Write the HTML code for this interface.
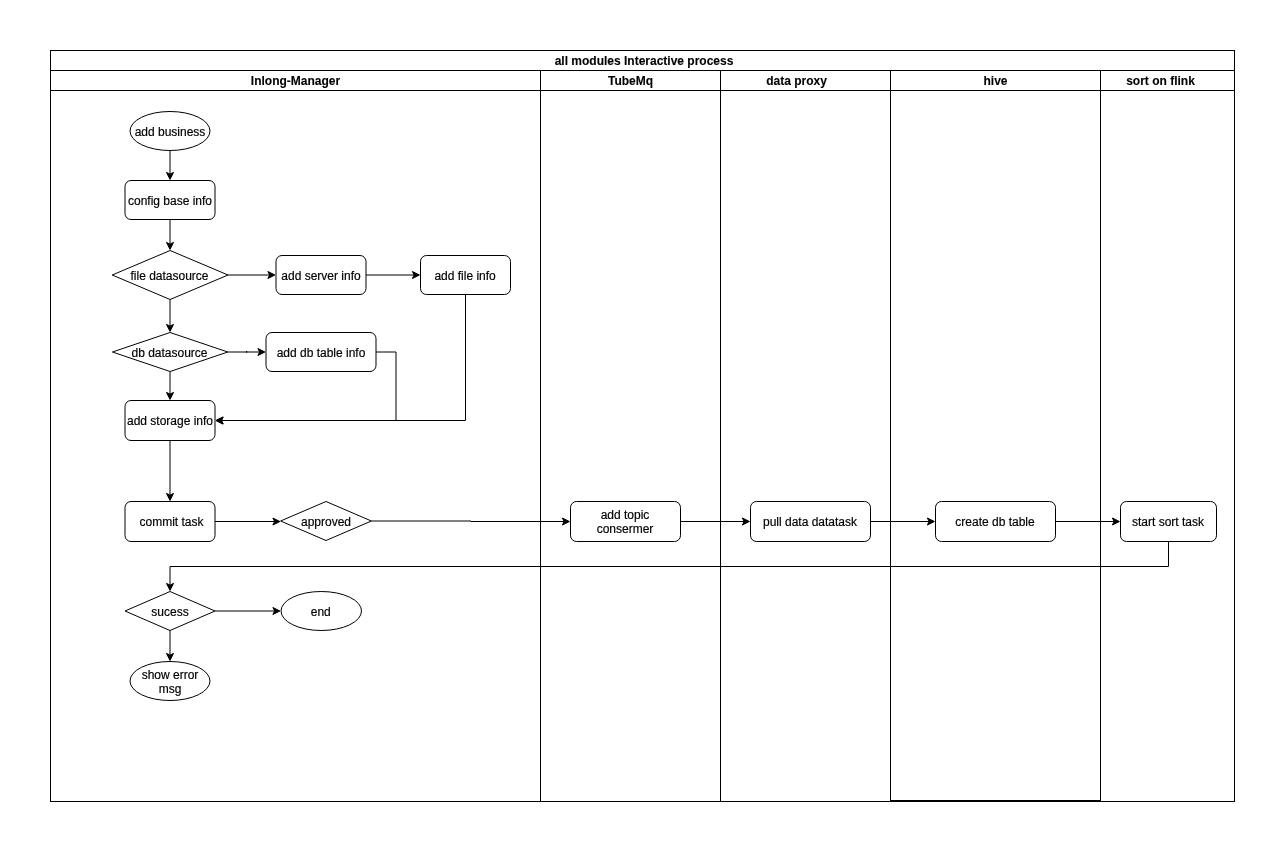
<!DOCTYPE html>
<html><head><meta charset="utf-8"><title>all modules Interactive process</title>
<style>
html,body{margin:0;padding:0;background:#fff;}
body{width:1285px;height:852px;overflow:hidden;}
svg{display:block;will-change:transform;}
text{font-family:"Liberation Sans",sans-serif;fill:#000;}
</style></head><body>
<svg width="1285" height="852" viewBox="0 0 1285 852">
<rect x="0" y="0" width="1285" height="852" fill="#fff"/>
<rect x="50.5" y="50.5" width="1184.0" height="751.0" fill="#fff" stroke="#000"/>
<path d="M 50.5 70.5 L 1234.5 70.5" fill="none" stroke="#000" stroke-width="1" stroke-miterlimit="10" />
<path d="M 50.5 90.5 L 1234.5 90.5" fill="none" stroke="#000" stroke-width="1" stroke-miterlimit="10" />
<path d="M 540.5 70.5 L 540.5 801.5" fill="none" stroke="#000" stroke-width="1" stroke-miterlimit="10" />
<path d="M 720.5 70.5 L 720.5 801.5" fill="none" stroke="#000" stroke-width="1" stroke-miterlimit="10" />
<path d="M 890.5 70.5 L 890.5 801.5" fill="none" stroke="#000" stroke-width="1" stroke-miterlimit="10" />
<path d="M 1100.5 70.5 L 1100.5 801.5" fill="none" stroke="#000" stroke-width="1" stroke-miterlimit="10" />
<path d="M 890.5 800.5 L 1100.5 800.5" fill="none" stroke="#000" stroke-width="1" stroke-miterlimit="10" />
<text x="644" y="65.0" text-anchor="middle" font-weight="bold" font-size="12px" stroke="#000" stroke-width="0.1">all modules Interactive process</text>
<text x="295.5" y="85.0" text-anchor="middle" font-weight="bold" font-size="12px" stroke="#000" stroke-width="0.1">Inlong-Manager</text>
<text x="630.5" y="85.0" text-anchor="middle" font-weight="bold" font-size="12px" stroke="#000" stroke-width="0.1">TubeMq</text>
<text x="796.5" y="85.0" text-anchor="middle" font-weight="bold" font-size="12px" stroke="#000" stroke-width="0.1">data proxy</text>
<text x="995.5" y="85.0" text-anchor="middle" font-weight="bold" font-size="12px" stroke="#000" stroke-width="0.1">hive</text>
<text x="1160.5" y="85.0" text-anchor="middle" font-weight="bold" font-size="12px" stroke="#000" stroke-width="0.1">sort on flink</text>
<path d="M 170 150.5 L 170.0 174.13" fill="none" stroke="#000" stroke-width="1" stroke-miterlimit="10" />
<path d="M 170.0 179.38 L 166.5 172.38 L 170.0 174.13 L 173.5 172.38 Z" fill="#000" stroke="#000" stroke-width="1" stroke-miterlimit="10"/>
<path d="M 170 219.5 L 170.0 244.13" fill="none" stroke="#000" stroke-width="1" stroke-miterlimit="10" />
<path d="M 170.0 249.38 L 166.5 242.38 L 170.0 244.13 L 173.5 242.38 Z" fill="#000" stroke="#000" stroke-width="1" stroke-miterlimit="10"/>
<path d="M 227.5 275 L 269.63 275.0" fill="none" stroke="#000" stroke-width="1" stroke-miterlimit="10" />
<path d="M 274.88 275.0 L 267.88 278.5 L 269.63 275.0 L 267.88 271.5 Z" fill="#000" stroke="#000" stroke-width="1" stroke-miterlimit="10"/>
<path d="M 366 275 L 414.13 275.0" fill="none" stroke="#000" stroke-width="1" stroke-miterlimit="10" />
<path d="M 419.38 275.0 L 412.38 278.5 L 414.13 275.0 L 412.38 271.5 Z" fill="#000" stroke="#000" stroke-width="1" stroke-miterlimit="10"/>
<path d="M 170 299.5 L 170.0 326.13" fill="none" stroke="#000" stroke-width="1" stroke-miterlimit="10" />
<path d="M 170.0 331.38 L 166.5 324.38 L 170.0 326.13 L 173.5 324.38 Z" fill="#000" stroke="#000" stroke-width="1" stroke-miterlimit="10"/>
<path d="M 227.5 352 L 259.63 352.0" fill="none" stroke="#000" stroke-width="1" stroke-miterlimit="10" />
<path d="M 264.88 352.0 L 257.88 355.5 L 259.63 352.0 L 257.88 348.5 Z" fill="#000" stroke="#000" stroke-width="1" stroke-miterlimit="10"/>
<rect x="246" y="351" width="1.2" height="1.6" fill="#000"/>
<path d="M 170 371.5 L 170.0 394.13" fill="none" stroke="#000" stroke-width="1" stroke-miterlimit="10" />
<path d="M 170.0 399.38 L 166.5 392.38 L 170.0 394.13 L 173.5 392.38 Z" fill="#000" stroke="#000" stroke-width="1" stroke-miterlimit="10"/>
<path d="M 376 352 L 396 352 L 396 420.5 L 221.37 420.5" fill="none" stroke="#000" stroke-width="1" stroke-miterlimit="10" />
<path d="M 216.12 420.5 L 223.12 417.0 L 221.37 420.5 L 223.12 424.0 Z" fill="#000" stroke="#000" stroke-width="1" stroke-miterlimit="10"/>
<path d="M 465.5 294.5 L 465.5 420.5 L 221.37 420.5" fill="none" stroke="#000" stroke-width="1" stroke-miterlimit="10" />
<path d="M 216.12 420.5 L 223.12 417.0 L 221.37 420.5 L 223.12 424.0 Z" fill="#000" stroke="#000" stroke-width="1" stroke-miterlimit="10"/>
<path d="M 170 440.5 L 170.0 495.13" fill="none" stroke="#000" stroke-width="1" stroke-miterlimit="10" />
<path d="M 170.0 500.38 L 166.5 493.38 L 170.0 495.13 L 173.5 493.38 Z" fill="#000" stroke="#000" stroke-width="1" stroke-miterlimit="10"/>
<path d="M 215 521.5 L 274.63 521.5" fill="none" stroke="#000" stroke-width="1" stroke-miterlimit="10" />
<path d="M 279.88 521.5 L 272.88 525.0 L 274.63 521.5 L 272.88 518.0 Z" fill="#000" stroke="#000" stroke-width="1" stroke-miterlimit="10"/>
<path d="M 371.4 521 L 471 521 L 471 521.5 L 564.13 521.5" fill="none" stroke="#000" stroke-width="1" stroke-miterlimit="10" />
<path d="M 569.38 521.5 L 562.38 525.0 L 564.13 521.5 L 562.38 518.0 Z" fill="#000" stroke="#000" stroke-width="1" stroke-miterlimit="10"/>
<path d="M 680.5 521.5 L 744.13 521.5" fill="none" stroke="#000" stroke-width="1" stroke-miterlimit="10" />
<path d="M 749.38 521.5 L 742.38 525.0 L 744.13 521.5 L 742.38 518.0 Z" fill="#000" stroke="#000" stroke-width="1" stroke-miterlimit="10"/>
<path d="M 870.5 521.5 L 929.13 521.5" fill="none" stroke="#000" stroke-width="1" stroke-miterlimit="10" />
<path d="M 934.38 521.5 L 927.38 525.0 L 929.13 521.5 L 927.38 518.0 Z" fill="#000" stroke="#000" stroke-width="1" stroke-miterlimit="10"/>
<path d="M 1055.5 521.5 L 1114.13 521.5" fill="none" stroke="#000" stroke-width="1" stroke-miterlimit="10" />
<path d="M 1119.38 521.5 L 1112.38 525.0 L 1114.13 521.5 L 1112.38 518.0 Z" fill="#000" stroke="#000" stroke-width="1" stroke-miterlimit="10"/>
<path d="M 1168.5 541.5 L 1168.5 566.5 L 170 566.5 L 170.0 585.13" fill="none" stroke="#000" stroke-width="1" stroke-miterlimit="10" />
<path d="M 170.0 590.38 L 166.5 583.38 L 170.0 585.13 L 173.5 583.38 Z" fill="#000" stroke="#000" stroke-width="1" stroke-miterlimit="10"/>
<path d="M 215 611 L 274.63 611.0" fill="none" stroke="#000" stroke-width="1" stroke-miterlimit="10" />
<path d="M 279.88 611.0 L 272.88 614.5 L 274.63 611.0 L 272.88 607.5 Z" fill="#000" stroke="#000" stroke-width="1" stroke-miterlimit="10"/>
<path d="M 170 630.5 L 170.0 655.13" fill="none" stroke="#000" stroke-width="1" stroke-miterlimit="10" />
<path d="M 170.0 660.38 L 166.5 653.38 L 170.0 655.13 L 173.5 653.38 Z" fill="#000" stroke="#000" stroke-width="1" stroke-miterlimit="10"/>
<ellipse cx="170.0" cy="131.0" rx="40.0" ry="19.5" fill="#fff" stroke="#000" stroke-width="1"/>
<text x="170.0" y="135.5" text-anchor="middle" font-weight="normal" font-size="12px" stroke="#000" stroke-width="0.18">add business</text>
<rect x="125" y="180.5" width="90" height="39.0" rx="6" ry="6" fill="#fff" stroke="#000" stroke-width="1"/>
<text x="170.0" y="204.5" text-anchor="middle" font-weight="normal" font-size="12px" stroke="#000" stroke-width="0.18">config base info</text>
<path d="M 170.1 250.5 L 228 275.0 L 170.1 299.5 L 112.2 275.0 Z" fill="#fff" stroke="#000" stroke-width="1" stroke-miterlimit="10"/>
<text x="169.5" y="279.5" text-anchor="middle" font-weight="normal" font-size="12px" stroke="#000" stroke-width="0.18">file datasource</text>
<rect x="276" y="255.5" width="90" height="39.0" rx="6" ry="6" fill="#fff" stroke="#000" stroke-width="1"/>
<text x="321.0" y="279.5" text-anchor="middle" font-weight="normal" font-size="12px" stroke="#000" stroke-width="0.18">add server info</text>
<rect x="420.5" y="255.5" width="90.0" height="39.0" rx="6" ry="6" fill="#fff" stroke="#000" stroke-width="1"/>
<text x="465.1" y="279.5" text-anchor="middle" font-weight="normal" font-size="12px" stroke="#000" stroke-width="0.18">add file info</text>
<path d="M 170.10000000000002 332.5 L 227.8 352.0 L 170.10000000000002 371.5 L 112.4 352.0 Z" fill="#fff" stroke="#000" stroke-width="1" stroke-miterlimit="10"/>
<text x="169.50000000000003" y="356.5" text-anchor="middle" font-weight="normal" font-size="12px" stroke="#000" stroke-width="0.18">db datasource</text>
<rect x="266" y="332.5" width="110" height="39.0" rx="6" ry="6" fill="#fff" stroke="#000" stroke-width="1"/>
<text x="321.0" y="356.5" text-anchor="middle" font-weight="normal" font-size="12px" stroke="#000" stroke-width="0.18">add db table info</text>
<rect x="125" y="400.5" width="90" height="40.0" rx="6" ry="6" fill="#fff" stroke="#000" stroke-width="1"/>
<text x="170.0" y="425.0" text-anchor="middle" font-weight="normal" font-size="12px" stroke="#000" stroke-width="0.18">add storage info</text>
<rect x="125" y="501.5" width="90" height="40.0" rx="6" ry="6" fill="#fff" stroke="#000" stroke-width="1"/>
<text x="171.5" y="526.0" text-anchor="middle" font-weight="normal" font-size="12px" stroke="#000" stroke-width="0.18">commit task</text>
<path d="M 326.0 501.5 L 371.4 521.0 L 326.0 540.5 L 280.6 521.0 Z" fill="#fff" stroke="#000" stroke-width="1" stroke-miterlimit="10"/>
<text x="326.0" y="525.5" text-anchor="middle" font-weight="normal" font-size="12px" stroke="#000" stroke-width="0.18">approved</text>
<rect x="570.5" y="501.5" width="110.0" height="40.0" rx="6" ry="6" fill="#fff" stroke="#000" stroke-width="1"/>
<text x="625.0" y="519.0" text-anchor="middle" font-weight="normal" font-size="12px" stroke="#000" stroke-width="0.18">add topic</text>
<text x="625.0" y="533.0" text-anchor="middle" font-weight="normal" font-size="12px" stroke="#000" stroke-width="0.18">consermer</text>
<rect x="750.5" y="501.5" width="120.0" height="40.0" rx="6" ry="6" fill="#fff" stroke="#000" stroke-width="1"/>
<text x="810.0" y="526.0" text-anchor="middle" font-weight="normal" font-size="12px" stroke="#000" stroke-width="0.18">pull data datatask</text>
<rect x="935.5" y="501.5" width="120.0" height="40.0" rx="6" ry="6" fill="#fff" stroke="#000" stroke-width="1"/>
<text x="995.0" y="526.0" text-anchor="middle" font-weight="normal" font-size="12px" stroke="#000" stroke-width="0.18">create db table</text>
<rect x="1120.5" y="501.5" width="96.0" height="40.0" rx="6" ry="6" fill="#fff" stroke="#000" stroke-width="1"/>
<text x="1168.0" y="526.0" text-anchor="middle" font-weight="normal" font-size="12px" stroke="#000" stroke-width="0.18">start sort task</text>
<path d="M 170.0 591.5 L 215 611.0 L 170.0 630.5 L 125 611.0 Z" fill="#fff" stroke="#000" stroke-width="1" stroke-miterlimit="10"/>
<text x="170.0" y="615.5" text-anchor="middle" font-weight="normal" font-size="12px" stroke="#000" stroke-width="0.18">sucess</text>
<ellipse cx="321.25" cy="611.0" rx="40.25" ry="19.5" fill="#fff" stroke="#000" stroke-width="1"/>
<text x="320.75" y="615.5" text-anchor="middle" font-weight="normal" font-size="12px" stroke="#000" stroke-width="0.18">end</text>
<ellipse cx="170.0" cy="681.0" rx="40.0" ry="19.5" fill="#fff" stroke="#000" stroke-width="1"/>
<text x="170.0" y="678.5" text-anchor="middle" font-weight="normal" font-size="12px" stroke="#000" stroke-width="0.18">show error</text>
<text x="170.0" y="692.5" text-anchor="middle" font-weight="normal" font-size="12px" stroke="#000" stroke-width="0.18">msg</text>
</svg>
</body></html>
